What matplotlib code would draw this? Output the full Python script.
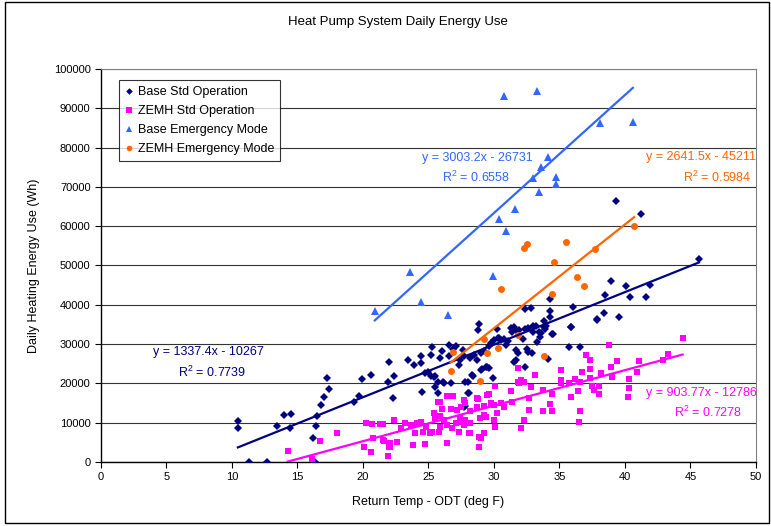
import numpy as np
import matplotlib
matplotlib.use("Agg")
import matplotlib.pyplot as plt
from matplotlib.patches import Rectangle

plt.rcParams['font.family'] = ['Liberation Sans', 'DejaVu Sans']

# Base Std Operation (deg F, Wh)
base_std_x = [10.45, 10.45, 11.3, 12.7, 13.4, 14.0, 14.5, 14.45, 16.4, 16.5, 16.2, 16.3, 16.8, 17.0,
              17.25, 17.4, 19.3, 19.7, 19.9, 20.6, 21.9, 22.0, 22.35, 22.3, 23.4, 24.45, 24.4, 25.25,
              25.2, 25.9, 26.55, 27.1, 26.6, 27.3, 27.6, 27.7, 28.2, 28.5, 28.7, 29.0, 29.2, 28.85,
              28.8, 30.2, 31.3, 31.5, 31.4, 31.7, 24.7, 25.0, 25.2, 25.4, 25.5, 25.7, 26.1, 26.2,
              25.5, 25.7, 24.5, 26.7, 28.0, 28.1, 27.75, 28.4, 29.0, 29.4, 29.6, 29.9, 30.3, 30.5,
              30.8, 31.1, 31.65, 38.9, 40.1, 38.5, 40.4, 41.6, 34.25, 34.3, 34.25, 36.0, 38.4, 37.9,
              39.55, 35.85, 34.5, 33.8, 32.8, 32.4, 31.9, 32.4, 32.6, 33.2, 33.4, 33.6, 33.9, 34.0,
              33.0, 33.5, 35.7, 36.6, 31.65, 32.5, 32.9, 31.5, 32.4, 34.1, 41.25, 39.35, 45.65, 41.9,
              30.4, 29.6, 29.8, 30.0, 31.8, 32.6, 29.1, 29.5, 28.3, 27.8, 28.0, 27.7, 35.9, 37.9,
              34.45, 33.0, 33.8, 26.0, 26.9, 27.4, 30.9, 32.2, 33.3, 23.9]
base_std_y = [10500, 8650, 0, 0, 9200, 12000, 12200, 8650, 9200, 11800, 6100, 0, 14600, 16500,
              21400, 18500, 15200, 16700, 21100, 22100, 20400, 25400, 21900, 16300, 26000, 27000, 25300, 29200,
              27100, 26400, 29800, 29500, 27000, 24700, 28500, 27000, 26500, 27300, 26000, 27800, 28300, 35100,
              33600, 33800, 34000, 34300, 33200, 33500, 22700, 23000, 21800, 21500, 22000, 20400, 20300, 20200,
              19000, 17500, 17700, 20200, 20400, 17500, 14200, 21900, 23500, 24100, 23900, 21300, 31500, 31000,
              31300, 30900, 25900, 46100, 44800, 42500, 41900, 41900, 41400, 38400, 37000, 39400, 37800, 36400,
              37000, 34300, 32600, 36000, 39100, 38900, 33600, 33800, 34200, 34500, 33200, 32900, 33800, 34600,
              33000, 31700, 29200, 29200, 28500, 28700, 27800, 25500, 24200, 26100, 63000, 66400, 51600, 45000,
              31500, 29500, 30200, 31000, 27700, 28000, 23600, 24200, 22100, 20400, 17600, 13900, 34400, 36100,
              32600, 34600, 34300, 28200, 28800, 26000, 29800, 31200, 30500, 24600]

# ZEMH Std Operation
zemh_std_x = [14.25, 16.1, 16.7, 18.0, 20.05, 20.6, 20.2, 20.7, 21.5, 20.75, 21.55, 21.9, 22.0, 22.1,
              22.6, 21.6, 22.1, 21.3, 22.35, 22.9, 23.2, 23.7, 24.1, 24.4, 24.8, 25.3, 25.8, 25.9,
              26.4, 26.2, 24.0, 24.6, 25.15, 23.8, 24.7, 26.4, 28.85, 25.7, 25.9, 26.4, 26.9, 26.05,
              25.4, 25.5, 25.9, 27.7, 27.8, 27.5, 26.7, 27.2, 28.2, 28.7, 29.2, 30.0, 30.5, 30.25,
              30.8, 30.0, 30.1, 28.9, 29.4, 27.4, 27.1, 26.8, 27.7, 28.2, 28.1, 29.0, 29.2, 27.3,
              30.1, 29.6, 28.7, 31.3, 31.8, 31.4, 31.8, 32.1, 31.9, 32.3, 33.1, 32.85, 33.75, 34.4,
              32.7, 32.7, 32.3, 32.1, 33.75, 34.4, 34.3, 35.15, 35.15, 35.15, 35.7, 36.2, 36.6, 35.9,
              36.45, 36.6, 36.5, 36.75, 37.3, 37.3, 37.0, 37.3, 38.8, 38.9, 38.15, 37.5, 38.0, 38.0,
              37.65, 39.4, 41.1, 40.3, 40.9, 40.3, 40.2, 39.0, 44.4, 43.3, 42.9, 28.2, 28.85, 27.45,
              27.8, 29.75, 29.5, 29.2, 28.8]
zemh_std_y = [2900, 700, 5400, 7500, 3700, 2600, 10000, 9600, 9600, 6000, 5600, 1500, 3900, 4900,
              5200, 5400, 3700, 9700, 10700, 8600, 10000, 9400, 9800, 10300, 9000, 7700, 7700, 9000,
              9400, 10700, 7500, 7700, 7500, 4300, 4500, 4800, 3900, 15300, 15300, 16800, 16900, 13400,
              12400, 11100, 11700, 15800, 14900, 14100, 13400, 13200, 13000, 13900, 14200, 14500, 14900, 12400,
              14100, 10700, 9000, 11100, 11500, 11100, 9800, 8600, 9400, 10000, 7500, 6000, 7500, 7700,
              19300, 17200, 16200, 18100, 20400, 15300, 23800, 20900, 20200, 20400, 22100, 19200, 18300, 17200,
              16200, 13200, 10700, 8600, 12900, 13000, 14800, 23400, 20900, 20000, 20200, 21000, 20400, 16500,
              18100, 12900, 10300, 23000, 23700, 21300, 27200, 26000, 29800, 24100, 22600, 19300, 19300, 17300,
              18300, 25700, 25700, 21000, 22800, 18700, 16600, 21500, 31600, 27400, 26000, 7300, 6300, 10300,
              10700, 14900, 17000, 12000, 16000]

# Base Emergency Mode
base_emg_x = [20.9, 23.6, 24.4, 26.5, 29.9, 30.4, 30.9, 31.6, 33.0, 33.4, 33.6, 34.1, 34.7, 34.7,
              30.8, 33.3, 38.1, 40.6]
base_emg_y = [38400, 48400, 40800, 37300, 47300, 61800, 58800, 64400, 72300, 68800, 75100, 77500, 72400, 70700,
              93200, 94400, 86200, 86500]

# ZEMH Emergency Mode
zemh_emg_x = [32.5, 32.3, 35.5, 34.6, 37.7, 40.7, 36.3, 36.9, 34.4, 33.8, 31.8, 30.5, 26.9, 26.7,
              29.2, 29.5, 28.9, 30.3]
zemh_emg_y = [55400, 54400, 56100, 50900, 54100, 60100, 47200, 44800, 42700, 27000, 32300, 43900, 28100, 23200,
              31200, 27800, 20600, 29100]

# trendline fits (slope, intercept, R^2) as printed on the chart
fits = {
    'base_std': (1337.4, -10267, 0.7739),
    'zemh_std': (903.77, -12786, 0.7278),
    'base_emg': (3003.2, -26731, 0.6558),
    'zemh_emg': (2641.5, -45211, 0.5984),
}

NAVY = '#000080'
MAGENTA = '#FF00FF'
BLUE = '#3366FF'
ORANGE = '#FF6600'

fig = plt.figure(figsize=(7.71, 5.26), dpi=100)
ax = fig.add_axes([0.131, 0.1217, 0.8495, 0.7471])

series = [
    ('Base Std Operation', base_std_x, base_std_y, 'D', 4.2, NAVY, 'base_std'),
    ('ZEMH Std Operation', zemh_std_x, zemh_std_y, 's', 4.6, MAGENTA, 'zemh_std'),
    ('Base Emergency Mode', base_emg_x, base_emg_y, '^', 5.6, BLUE, 'base_emg'),
    ('ZEMH Emergency Mode', zemh_emg_x, zemh_emg_y, 'o', 5.0, ORANGE, 'zemh_emg'),
]

for label, xs, ys, mk, ms, col, key in series:
    ax.plot(xs, ys, linestyle='', marker=mk, markersize=ms, color=col,
            markeredgewidth=0, label=label, zorder=3)

for label, xs, ys, mk, ms, col, key in series:
    m, b, r2 = fits[key]
    tx = np.array([min(xs), max(xs)])
    ax.plot(tx, m * tx + b, color=col, lw=1.6, zorder=4)

# trendline equations
def fit_text(key, x, y, col, ha):
    m, b, r2 = fits[key]
    ax.text(x, y, 'y = %gx - %g' % (m, -b), color=col, fontsize=9, ha=ha, va='center')
    return r2

r2 = fit_text('base_std', 8.2, 28000, NAVY, 'center')
ax.text(8.5, 22900, '$\\mathregular{R^2}$ = %.4f' % r2, color=NAVY, fontsize=9, ha='center', va='center')
r2 = fit_text('base_emg', 28.7, 77400, BLUE, 'center')
ax.text(28.6, 72500, '$\\mathregular{R^2}$ = %.4f' % r2, color=BLUE, fontsize=9, ha='center', va='center')
r2 = fit_text('zemh_emg', 50.0, 77600, ORANGE, 'right')
ax.text(49.6, 72500, '$\\mathregular{R^2}$ = %.4f' % r2, color=ORANGE, fontsize=9, ha='right', va='center')
r2 = fit_text('zemh_std', 50.05, 17600, MAGENTA, 'right')
ax.text(48.9, 12700, '$\\mathregular{R^2}$ = %.4f' % r2, color=MAGENTA, fontsize=9, ha='right', va='center')

ax.set_xlim(0, 50)
ax.set_ylim(0, 100000)
ax.set_xticks(np.arange(0, 51, 5))
ax.set_yticks(np.arange(0, 100001, 10000))
ax.tick_params(labelsize=8, direction='out', length=4, width=0.8, colors='black')
ax.grid(axis='y', color='#333333', lw=0.8, zorder=0)
ax.set_axisbelow(True)
for side in ['top', 'right']:
    ax.spines[side].set_color('#808080')
for side in ['left', 'bottom']:
    ax.spines[side].set_color('black')
    ax.spines[side].set_linewidth(1.0)

ax.set_xlabel('Return Temp - ODT (deg F)', fontsize=9, labelpad=10)
ax.set_ylabel('Daily Heating Energy Use (Wh)', fontsize=9, labelpad=10)
fig.text(0.516, 0.958, 'Heat Pump System Daily Energy Use', fontsize=9.5, ha='center', va='center')

leg = ax.legend(loc='upper left', bbox_to_anchor=(0.0275, 0.972), borderaxespad=0,
                fontsize=9, frameon=True, fancybox=False, handlelength=0.6,
                handletextpad=0.4, labelspacing=0.55, borderpad=0.5, markerscale=0.8)
leg.get_frame().set_edgecolor('black')
leg.get_frame().set_linewidth(0.8)

# chart area border
fig.patches.append(Rectangle((0.006, 0.005), 0.992, 0.992, transform=fig.transFigure,
                             fill=False, edgecolor='black', lw=1.0))

fig.savefig('out.png', dpi=100)
